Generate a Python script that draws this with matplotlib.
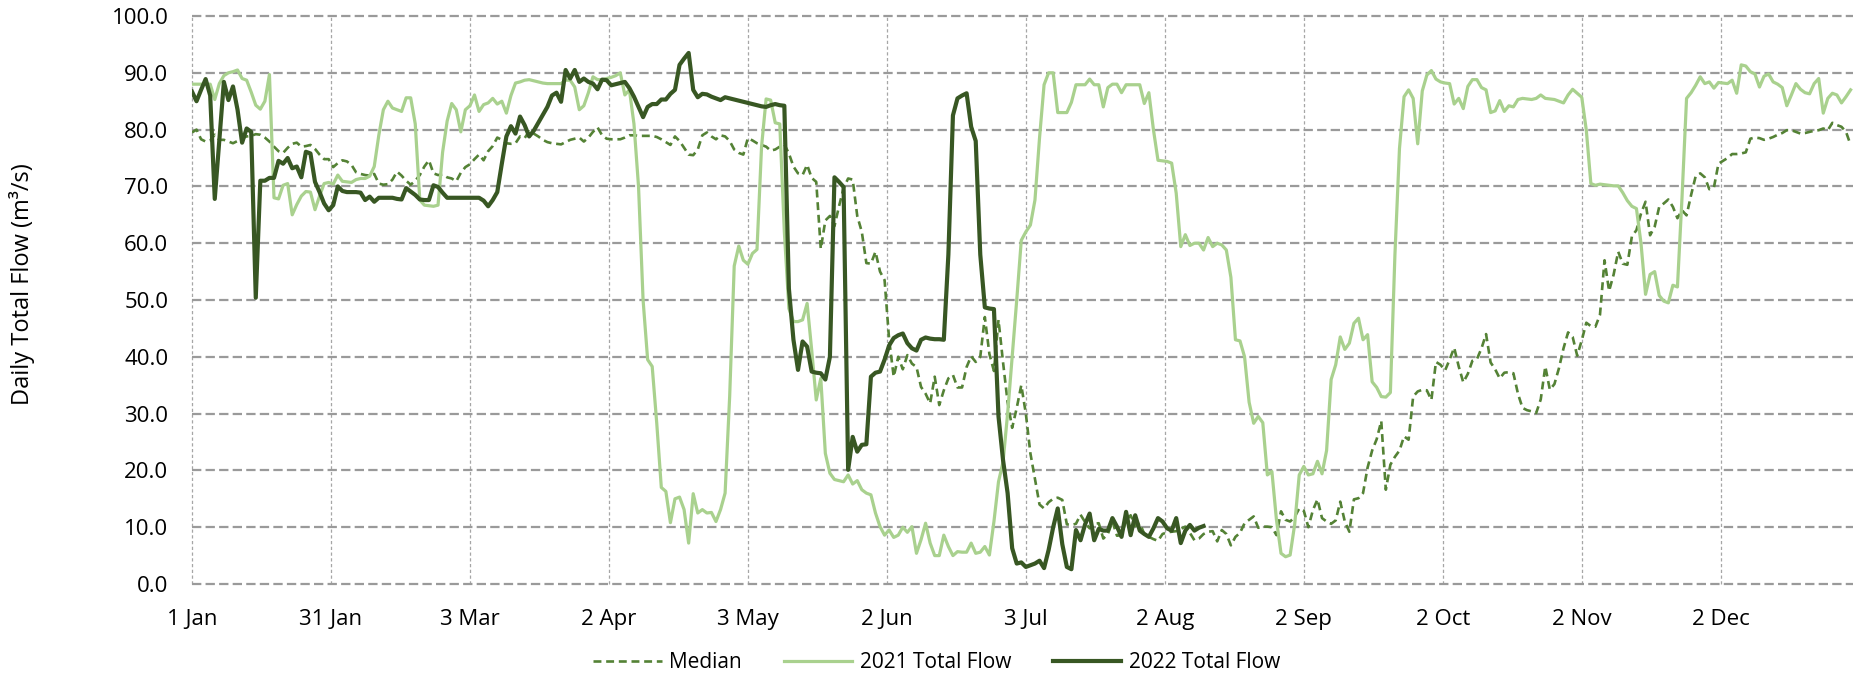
import numpy as np
import matplotlib
matplotlib.use('Agg')
import matplotlib.pyplot as plt

plt.rcParams['font.family'] = ['Open Sans', 'DejaVu Sans']

# =========== Data (one value per day, starting 1 Jan) ============
tick_labels = ['1 Jan', '31 Jan', '3 Mar', '2 Apr', '3 May', '2 Jun',
               '3 Jul', '2 Aug', '2 Sep', '2 Oct', '2 Nov', '2 Dec']

median_flow = [
    79.5, 80.0, 78.3, 77.9, 78.1, 79.1, 78.2, 78.2, 77.9, 77.6,
    78.0, 78.5, 78.8, 78.9, 79.2, 79.1, 78.6, 77.9, 77.0, 76.2,
    75.9, 76.8, 77.5, 77.7, 77.0, 77.1, 77.3, 76.6, 75.6, 74.8,
    74.8, 73.4, 74.1, 74.6, 74.4, 73.8, 72.5, 72.2, 72.0, 71.9,
    72.2, 70.5, 70.3, 70.4, 71.2, 72.6, 71.9, 71.0, 70.3, 71.0,
    72.0, 73.5, 74.6, 72.3, 72.0, 72.1, 71.6, 71.4, 70.9, 72.4,
    73.4, 73.9, 74.8, 75.6, 74.6, 76.2, 77.1, 78.6, 78.2, 77.6,
    77.5, 77.6, 78.8, 78.5, 79.7, 79.3, 78.8, 78.2, 77.8, 77.6,
    77.5, 77.4, 77.8, 78.2, 78.4, 78.6, 77.9, 78.6, 79.6, 80.4,
    79.0, 78.4, 78.3, 78.3, 78.3, 78.6, 79.0, 79.0, 78.9, 78.9,
    78.9, 78.9, 78.7, 78.3, 77.8, 77.3, 78.8, 78.0, 76.8, 75.6,
    75.5, 76.5, 79.0, 79.5, 78.8, 78.3, 79.0, 78.8, 78.0, 76.5,
    75.9, 75.6, 78.5, 78.1, 77.6, 77.3, 77.0, 76.3, 76.5, 77.0,
    77.4, 75.8, 73.5, 72.3, 72.0, 73.8, 71.5, 70.8, 59.0, 64.0,
    64.8, 63.0, 66.5, 69.7, 71.4, 71.2, 64.8, 62.0, 56.5, 56.4,
    58.5, 55.0, 53.5, 43.0, 36.5, 40.0, 37.8, 40.3, 38.8, 38.2,
    34.7, 33.5, 31.8, 36.5, 31.5, 34.1, 36.2, 36.8, 34.6, 34.6,
    38.2, 40.1, 39.1, 40.0, 47.0, 40.5, 37.5, 46.5, 39.0, 32.0,
    27.5, 31.0, 35.0, 30.0, 23.0, 18.5, 14.0, 13.3, 14.4, 15.0,
    15.2, 14.8, 10.5, 10.4, 10.6, 12.2, 10.9, 9.8, 10.6, 10.7,
    8.0, 8.8, 11.0, 8.5, 8.6, 11.2, 12.1, 10.2, 10.7, 8.8,
    8.3, 7.9, 7.6, 8.8, 9.1, 9.2, 9.3, 9.7, 10.1, 9.0,
    7.7, 8.0, 8.8, 9.2, 9.3, 7.5, 9.5, 8.8, 6.8, 8.3,
    9.0, 10.7, 11.3, 11.9, 9.9, 10.1, 10.1, 10.0, 8.6, 12.8,
    11.3, 11.0, 11.8, 13.3, 12.9, 10.0, 13.0, 14.9, 11.6, 11.0,
    10.6, 11.2, 14.5, 11.0, 9.2, 14.9, 15.1, 16.0, 20.5, 23.5,
    25.5, 28.7, 16.6, 21.0, 22.4, 23.5, 26.0, 25.4, 33.0, 33.9,
    34.2, 34.1, 32.4, 39.1, 38.6, 37.6, 39.5, 41.6, 38.3, 35.5,
    37.0, 39.3, 39.6, 41.5, 44.0, 39.0, 37.8, 36.2, 37.2, 37.3,
    37.1, 33.5, 31.0, 30.6, 30.4, 30.1, 32.5, 38.3, 34.2, 35.2,
    38.0, 41.5, 44.3, 43.5, 40.2, 42.9, 46.0, 45.4, 45.3, 47.4,
    57.0, 51.6, 54.5, 58.5, 56.4, 56.2, 61.2, 62.3, 65.2, 67.3,
    61.4, 62.9, 66.4, 67.0, 67.7, 66.4, 64.4, 65.8, 64.9, 68.5,
    71.8, 72.3, 71.6, 69.5, 69.8, 74.0, 74.5, 75.0, 75.7, 75.7,
    75.8, 76.0, 78.4, 78.6, 78.5, 78.2, 78.4, 78.7, 79.1, 79.4,
    79.9, 79.9, 79.6, 79.3, 79.4, 79.6, 79.8, 79.9, 80.2, 79.9,
    81.2, 80.8, 80.5, 79.6, 77.3,
]

flow_2021 = [
    88.0, 88.0, 88.0, 88.0, 88.0, 85.3, 88.1, 89.5, 90.0, 90.2,
    90.5, 89.0, 88.7, 86.6, 84.3, 83.6, 85.0, 89.7, 68.0, 67.8,
    70.2, 70.5, 65.0, 66.8, 68.3, 69.1, 69.0, 65.9, 68.3, 70.5,
    70.7, 70.4, 72.0, 70.9, 70.8, 70.7, 71.2, 71.4, 71.4, 71.8,
    73.5, 79.0, 83.5, 85.0, 83.8, 83.5, 83.2, 85.6, 85.6, 81.0,
    67.6, 66.7, 66.6, 66.5, 66.7, 76.0, 81.5, 84.6, 83.5, 79.6,
    83.5, 84.2, 86.1, 83.2, 84.4, 84.7, 85.5, 84.5, 85.0, 82.9,
    86.0, 88.2, 88.4, 88.7, 88.8, 88.6, 88.4, 88.2, 88.1, 88.1,
    88.1, 88.1, 88.7, 88.7, 87.5, 83.5, 84.2, 86.5, 89.3, 88.8,
    88.8, 89.0, 89.2, 89.5, 90.0, 86.1, 87.0, 81.0, 70.0, 50.0,
    39.5, 38.3, 28.3, 17.0, 16.3, 10.8, 15.0, 15.3, 13.1, 7.2,
    15.9, 12.5, 13.1, 12.5, 12.6, 11.0, 13.1, 16.0, 33.0, 56.0,
    59.5, 57.0, 56.3, 58.2, 58.9, 77.0, 85.4, 85.2, 81.2, 81.0,
    62.0, 48.5, 46.2, 46.2, 46.5, 49.4, 41.2, 32.4, 36.2, 23.0,
    19.5, 18.4, 18.2, 18.0, 19.2, 17.6, 18.2, 16.6, 16.0, 15.7,
    12.5, 10.1, 8.6, 9.5, 8.2, 8.6, 10.0, 9.1, 10.1, 5.4,
    7.8, 10.7, 7.2, 5.0, 5.0, 8.6, 6.6, 5.0, 5.7, 5.6,
    5.6, 7.2, 5.4, 5.6, 6.6, 5.1, 11.0, 18.0, 21.5, 30.0,
    40.0, 50.0, 60.5, 62.0, 63.2, 67.6, 78.5, 87.9, 90.0, 90.0,
    83.0, 83.0, 83.0, 84.8, 87.9, 87.9, 87.9, 88.9, 87.9, 87.9,
    84.0, 87.4, 88.0, 88.0, 86.5, 87.9, 87.9, 87.9, 87.9, 84.6,
    86.5, 80.0, 74.6, 74.5, 74.4, 74.1, 68.8, 59.4, 61.5, 59.6,
    60.0, 60.0, 58.8, 61.0, 59.4, 60.0, 59.7, 58.8, 54.0, 43.0,
    42.8, 40.0, 32.0, 28.3, 29.5, 28.4, 19.2, 19.8, 11.3, 5.4,
    4.8, 5.1, 10.5, 19.2, 20.7, 19.2, 19.4, 21.6, 19.4, 23.5,
    36.0, 38.6, 43.5, 41.3, 42.4, 45.9, 46.8, 43.0, 43.9, 35.6,
    34.6, 33.0, 32.9, 33.7, 58.0, 76.7, 85.8, 87.0, 85.5, 77.5,
    86.8, 89.6, 90.4, 88.9, 88.4, 88.2, 88.1, 84.5, 85.5, 83.7,
    87.6, 88.8, 88.8, 87.4, 87.0, 83.0, 83.3, 85.1, 83.2, 84.2,
    84.0, 85.3, 85.5, 85.4, 85.3, 85.5, 86.1, 85.5, 85.4, 85.3,
    85.0, 84.7, 86.1, 87.1, 86.4, 85.7, 79.9, 70.5, 70.2, 70.4,
    70.3, 70.2, 70.1, 70.1, 68.9, 67.5, 66.5, 66.1, 60.0, 51.0,
    54.5, 55.0, 50.8, 49.8, 49.5, 52.6, 52.3, 68.0, 85.5, 86.5,
    87.8, 89.3, 88.1, 88.4, 87.3, 88.3, 88.2, 88.1, 88.7, 86.4,
    91.4, 91.2, 90.2, 89.8, 87.5, 89.4, 89.8, 88.4, 88.0, 87.4,
    84.2, 86.1, 88.1, 87.1, 86.5, 86.3, 88.1, 89.0, 82.9, 85.5,
    86.4, 86.1, 84.7, 85.8, 87.0,
]

flow_2022 = [
    86.7, 85.0, 87.0, 88.9, 86.0, 67.8, 78.0, 88.4, 85.2, 87.6,
    83.5, 77.7, 80.2, 79.6, 50.4, 71.0, 71.0, 71.5, 71.5, 74.5,
    74.0, 75.0, 73.2, 73.5, 71.6, 76.1, 75.8, 70.8, 69.0, 67.0,
    65.8, 66.7, 70.0, 69.2, 69.0, 69.0, 69.0, 68.9, 67.6, 68.2,
    67.3, 68.0, 68.0, 68.0, 68.0, 67.8, 67.7, 69.7, 69.1, 68.5,
    67.7, 67.6, 67.6, 70.2, 69.9, 68.9, 68.0, 68.0, 68.0, 68.0,
    68.0, 68.0, 68.0, 68.0, 67.5, 66.5, 67.6, 69.0, 74.0, 78.8,
    80.6, 79.3, 82.3, 80.8, 78.8, 79.8, 81.2, 82.6, 84.0, 86.0,
    86.5, 84.9, 90.5, 89.0, 90.5, 88.4, 89.0, 88.4, 88.1, 87.1,
    88.8, 88.7, 87.8, 88.0, 88.2, 88.4, 87.3, 85.8, 84.0, 82.2,
    84.0, 84.5, 84.5, 85.3, 85.3, 86.3, 87.0, 91.4, 92.5, 93.5,
    87.0, 85.7, 86.3, 86.2, 85.8, 85.5, 85.2, 85.7, 85.5, 85.3,
    85.1, 84.9, 84.7, 84.5, 84.3, 84.1, 84.0, 84.3, 84.5, 84.3,
    84.2, 52.0, 43.0, 37.7, 42.7, 41.8, 37.4, 37.2, 37.1, 36.0,
    40.0, 71.6, 70.8, 69.9, 20.1, 25.9, 23.3, 24.5, 24.6, 36.5,
    37.2, 37.4, 39.5, 42.0, 43.3, 43.8, 44.1, 42.4, 41.5, 41.1,
    43.0, 43.4, 43.2, 43.1, 43.1, 43.0, 58.0, 82.5, 85.5, 86.0,
    86.4, 80.5, 78.0, 58.0, 48.7, 48.5, 48.4, 29.5, 21.8, 16.0,
    6.3, 3.6, 3.8, 3.0, 3.3, 3.6, 4.1, 2.8, 6.0, 10.0,
    13.3, 7.0, 3.0, 2.6, 9.5, 7.7, 10.5, 12.4, 7.7, 9.7,
    9.4, 9.4, 11.6, 10.1, 8.3, 12.7, 8.6, 12.1, 9.4, 8.8,
    8.3, 9.8, 11.6, 11.0, 9.8, 9.4, 11.6, 7.2, 9.4, 10.4,
    9.4, 9.9, 10.2,
]

# =========== Plot ============
fig = plt.figure(figsize=(18.62, 6.76), dpi=100)
ax = fig.add_axes([0.1031, 0.1361, 0.8920, 0.8402])

days_med = np.arange(len(median_flow))
days_21 = np.arange(len(flow_2021))
days_22 = np.arange(len(flow_2022))

ax.plot(days_med, median_flow, color='#548235', lw=1.9,
        linestyle=(0, (3.0, 1.8)), label='Median')
ax.plot(days_21, flow_2021, color='#A9D18E', lw=2.3,
        label='2021 Total Flow')
ax.plot(days_22, flow_2022, color='#385723', lw=3.0,
        label='2022 Total Flow')

ax.set_xlim(0, 364.5)
ax.set_ylim(0, 100)
ax.set_xticks(np.arange(len(tick_labels)) * 30.5)
ax.set_xticklabels(tick_labels)
ax.set_yticks(np.arange(0, 101, 10))
ax.yaxis.set_major_formatter(matplotlib.ticker.FormatStrFormatter('%.1f'))

for s in ax.spines.values():
    s.set_visible(False)
ax.tick_params(axis='both', length=0, labelsize=16, colors='black')
ax.tick_params(axis='x', pad=18)
ax.tick_params(axis='y', pad=17)

ax.grid(axis='y', color='#9A9A9A', lw=1.6, linestyle=(0, (4.2, 1.9)))
ax.grid(axis='x', color='#A6A6A6', lw=0.9, linestyle=(0, (2.6, 2.0)))
ax.set_axisbelow(True)
for gl in ax.get_ygridlines() + ax.get_xgridlines():
    gl.set_clip_on(False)

fig.text(22 / 1862, 1 - 284 / 676, 'Daily Total Flow (m³/s)', rotation=90,
         ha='center', va='center', fontsize=17)

fig.legend(loc='center', bbox_to_anchor=(0.503, 1 - 663 / 676), ncol=3,
           frameon=False, fontsize=15, handlelength=3.3,
           handletextpad=0.35, columnspacing=2.0)

fig.savefig('out.png', dpi=100)
